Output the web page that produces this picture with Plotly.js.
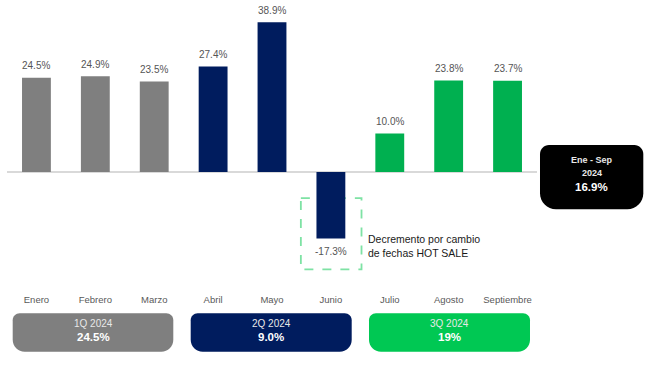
<!DOCTYPE html>
<html>
<head>
<meta charset="utf-8">
<script src="https://cdn.plot.ly/plotly-3.0.1.min.js"></script>
<style>html,body{margin:0;padding:0;background:#fff;}#chart{width:658px;height:376px;}</style>
</head>
<body>
<div id="chart"></div>
<script>
// ---- data ----
var months = ["Enero","Febrero","Marzo","Abril","Mayo","Junio","Julio","Agosto","Septiembre"];
var growth = [24.5, 24.9, 23.5, 27.4, 38.9, -17.3, 10.0, 23.8, 23.7];
var quarterOf = [0,0,0,1,1,1,2,2,2];
var quarterNames = ["1Q 2024","2Q 2024","3Q 2024"];
var quarterValues = ["24.5%","9.0%","19%"];
var ytdTitle = "Ene - Sep";
var ytdYear = "2024";
var ytdValue = "16.9%";
var noteText = "Decremento por cambio<br>de fechas HOT SALE";
var noteMonth = "Junio";

// ---- style ----
var barColors = ["#7f7f7f","#001c5e","#00b050"];
var boxColors = ["#7f7f7f","#001c5e","#00c853"];
var FONT = "Liberation Sans, Arial, sans-serif";

var L = 7, R = 121, T = 0, B = 84, FW = 658, FH = 376;
var W = FW - L - R, H = FH - T - B;
function PX(px){ return (px - L) / W; }
function PY(py){ return (T + H - py) / H; }
function roundRect(x0, y0, x1, y1, r){ // r = [tl,tr,br,bl] pixels
  var k = 0.5523;
  function p(x,y){ return PX(x).toFixed(5)+","+PY(y).toFixed(5); }
  var s = "M"+p(x0+r[0],y0);
  s += " L"+p(x1-r[1],y0);
  s += " C"+p(x1-r[1]+k*r[1],y0)+" "+p(x1,y0+r[1]-k*r[1])+" "+p(x1,y0+r[1]);
  s += " L"+p(x1,y1-r[2]);
  s += " C"+p(x1,y1-r[2]+k*r[2])+" "+p(x1-r[2]+k*r[2],y1)+" "+p(x1-r[2],y1);
  s += " L"+p(x0+r[3],y1);
  s += " C"+p(x0+r[3]-k*r[3],y1)+" "+p(x0,y1-r[3]+k*r[3])+" "+p(x0,y1-r[3]);
  s += " L"+p(x0,y0+r[0]);
  s += " C"+p(x0,y0+r[0]-k*r[0])+" "+p(x0+r[0]-k*r[0],y0)+" "+p(x0+r[0],y0);
  return s + " Z";
}

var xs = months.map(function(m,i){ return i; });
var trace = {
  type: "bar",
  x: xs,
  y: growth,
  marker: { color: quarterOf.map(function(q){ return barColors[q]; }), line: {width: 0} },
  hoverinfo: "skip"
};

var annotations = [];
growth.forEach(function(v,i){
  annotations.push({
    x: i, y: v, xref: "x", yref: "y",
    text: v.toFixed(1) + "%",
    showarrow: false,
    xanchor: "center", yanchor: "middle",
    yshift: v >= 0 ? 12 : -12.5,
    font: { family: FONT, size: 10, color: "#555555" }
  });
});

var shapes = [];
// dashed highlight around the June bar
var ni = months.indexOf(noteMonth);
shapes.push({
  type: "rect", xref: "x", yref: "y", layer: "below",
  x0: ni - 0.51, x1: ni + 0.52, y0: -6.8, y1: -25.3,
  line: { color: "#7ee2a4", width: 1.8, dash: "dash" },
  fillcolor: "rgba(0,0,0,0)"
});
annotations.push({
  x: ni + 0.6, y: -19.3, xref: "x", yref: "y",
  xanchor: "left", yanchor: "middle", align: "left",
  text: noteText, showarrow: false,
  font: { family: FONT, size: 10.5, color: "#1a1a1a" }
});

function centered(x, y, text, size, color){
  return { x: x, y: y, xref: "paper", yref: "paper", showarrow: false,
    xanchor: "center", yanchor: "middle", text: text,
    font: { family: FONT, size: size, color: color } };
}

// quarter boxes
var qBoxes = [[12.7,173.3],[190.7,351.7],[369,530]];
quarterNames.forEach(function(name,q){
  var b = qBoxes[q];
  shapes.push({
    type: "path", xref: "paper", yref: "paper",
    path: roundRect(b[0], 313.3, b[1], 351.7, [7,7,12,12]),
    fillcolor: boxColors[q], line: { width: 0 }
  });
  var cx = PX((b[0]+b[1])/2);
  annotations.push(centered(cx, PY(323.5), name, 10, "#e8e8e8"));
  annotations.push(centered(cx, PY(337), "<b>" + quarterValues[q] + "</b>", 11.5, "#ffffff"));
});

// YTD box
shapes.push({
  type: "path", xref: "paper", yref: "paper",
  path: roundRect(540, 145, 643.3, 209.3, [9,9,16,16]),
  fillcolor: "#000000", line: { width: 0 }
});
var ycx = PX(591.7);
annotations.push(centered(ycx, PY(159.5), "<b>" + ytdTitle + "</b>", 9, "#e8e8e8"));
annotations.push(centered(ycx, PY(172.5), "<b>" + ytdYear + "</b>", 9, "#e8e8e8"));
annotations.push(centered(ycx, PY(186.5), "<b>" + ytdValue + "</b>", 11.5, "#ffffff"));

var layout = {
  width: FW, height: FH,
  margin: { l: L, r: R, t: T, b: B, pad: 0 },
  paper_bgcolor: "#ffffff", plot_bgcolor: "#ffffff",
  showlegend: false,
  bargap: 0.51,
  xaxis: {
    range: [-0.5, 8.5],
    tickmode: "array", tickvals: xs, ticktext: months,
    showgrid: false, zeroline: false, showline: false, ticks: "",
    tickfont: { family: FONT, size: 9.5, color: "#595959" },
    fixedrange: true
  },
  yaxis: {
    range: [-31.17, 44.68],
    showgrid: false, showticklabels: false, ticks: "",
    zeroline: true, zerolinecolor: "#d9d9d9", zerolinewidth: 1.2,
    showline: false, fixedrange: true
  },
  shapes: shapes,
  annotations: annotations,
  font: { family: FONT }
};

Plotly.newPlot("chart", [trace], layout, { displayModeBar: false, staticPlot: true });
</script>
</body>
</html>
